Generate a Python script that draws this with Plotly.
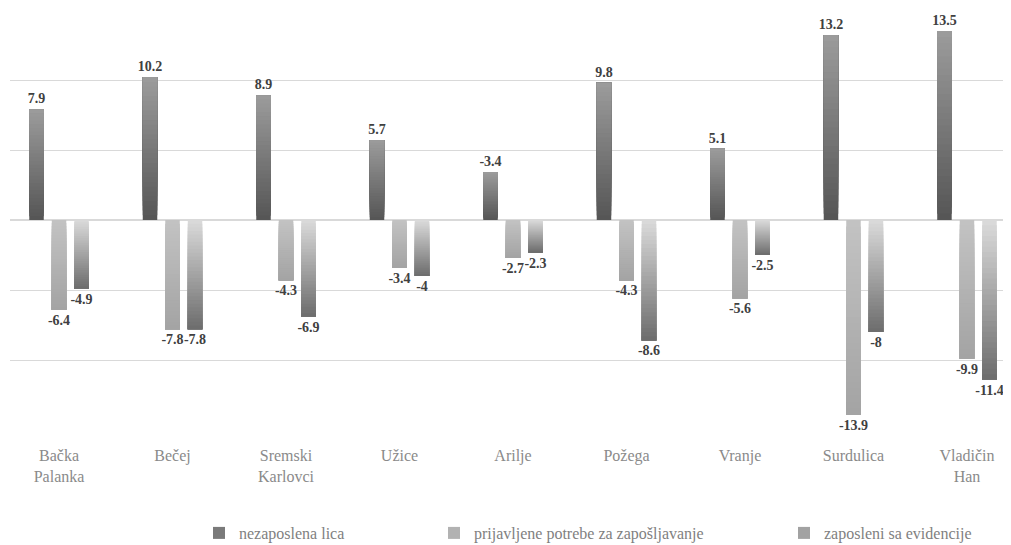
import plotly.graph_objects as go

categories = ["Bačka<br>Palanka", "Bečej", "Sremski<br>Karlovci", "Užice", "Arilje",
              "Požega", "Vranje", "Surdulica", "Vladičin<br>Han"]

series_names = ["nezaposlena lica", "prijavljene potrebe za zapošljavanje", "zaposleni sa evidencije"]

nezaposlena = [7.9, 10.2, 8.9, 5.7, 3.4, 9.8, 5.1, 13.2, 13.5]
nezaposlena_labels = ["7.9", "10.2", "8.9", "5.7", "-3.4", "9.8", "5.1", "13.2", "13.5"]

prijavljene = [-6.4, -7.8, -4.3, -3.4, -2.7, -4.3, -5.6, -13.9, -9.9]
prijavljene_labels = ["-6.4", "-7.8", "-4.3", "-3.4", "-2.7", "-4.3", "-5.6", "-13.9", "-9.9"]

zaposleni = [-4.9, -7.8, -6.9, -4, -2.3, -8.6, -2.5, -8, -11.4]
zaposleni_labels = ["-4.9", "-7.8", "-6.9", "-4", "-2.3", "-8.6", "-2.5", "-8", "-11.4"]

# gradient: colour at the zero end -> colour at the tip of each bar
gradients = [((0x55, 0x55, 0x55), (0x9c, 0x9c, 0x9c)),
             ((0xc3, 0xc3, 0xc3), (0xa3, 0xa3, 0xa3)),
             ((0xdb, 0xdb, 0xdb), (0x6c, 0x6c, 0x6c))]

all_values = [nezaposlena, prijavljene, zaposleni]
all_labels = [nezaposlena_labels, prijavljene_labels, zaposleni_labels]

N = 30
serif = "'Liberation Serif', 'DejaVu Serif', serif"

fig = go.Figure()

legend_ids = ["legend", "legend2", "legend3"]

for s in range(3):
    vals = all_values[s]
    c0, c1 = gradients[s]
    for k in range(N):
        f = (k + 0.5) / N
        col = "rgb({},{},{})".format(*[round(c0[i] + (c1[i] - c0[i]) * f) for i in range(3)])
        tip = (k == N - 1)
        # each layer runs from its start to the bar tip, painted over the previous one
        fig.add_trace(go.Bar(
            x=categories,
            y=[v * (N - k) / N for v in vals],
            base=[v * k / N for v in vals],
            offsetgroup=str(s),
            legendgroup=str(s),
            legend=legend_ids[s],
            name=series_names[s],
            showlegend=(k == N // 2),
            marker=dict(color=col, line=dict(width=0)),
            text=all_labels[s] if tip else None,
            textposition="outside" if tip else "none",
            textfont=dict(family=serif, size=14, color="#404040", weight="bold"),
            constraintext="none",
            cliponaxis=False,
            hoverinfo="skip",
        ))

# the page body adds an 8px margin, so the figure is drawn from (8, 8) on screen
OFF = 8
W, H = 1011 - OFF, 545 - OFF
plot_left, plot_top, plot_bottom = 10, 10, 430   # screen pixels
def py(px):
    return (plot_bottom - px) / (plot_bottom - plot_top)
def px_(sx):
    return (sx - plot_left) / (W - (plot_left - OFF))

leg_font = dict(family=serif, size=16, color="#7f7f7f")
leg_common = dict(orientation="h", yanchor="middle", xanchor="left",
                  bgcolor="rgba(0,0,0,0)", font=leg_font, itemclick=False)

fig.update_layout(
    width=W, height=H,
    margin=dict(l=plot_left - OFF, r=0, t=plot_top - OFF, b=H - (plot_bottom - OFF),
                autoexpand=False),
    paper_bgcolor="white", plot_bgcolor="white",
    font=dict(family=serif),
    barmode="group", bargap=0.405, bargroupgap=0.356,
    showlegend=True,
    legend=dict(x=px_(199), y=py(533), **leg_common),
    legend2=dict(x=px_(434), y=py(533), **leg_common),
    legend3=dict(x=px_(784), y=py(533), **leg_common),
    xaxis=dict(type="category", range=[-0.432, 8.388], showgrid=False, zeroline=False,
               showline=False, ticks="", ticklabelstandoff=14, automargin=False,
               tickfont=dict(family=serif, size=16, color="#8a8a8a")),
    yaxis=dict(range=[-15, 15], dtick=5, showticklabels=False, showgrid=True,
               gridcolor="#d9d9d9", gridwidth=1, zeroline=True, zerolinecolor="#d9d9d9",
               zerolinewidth=1.5, showline=False, ticks="", automargin=False),
)

fig.write_html("out.html")
